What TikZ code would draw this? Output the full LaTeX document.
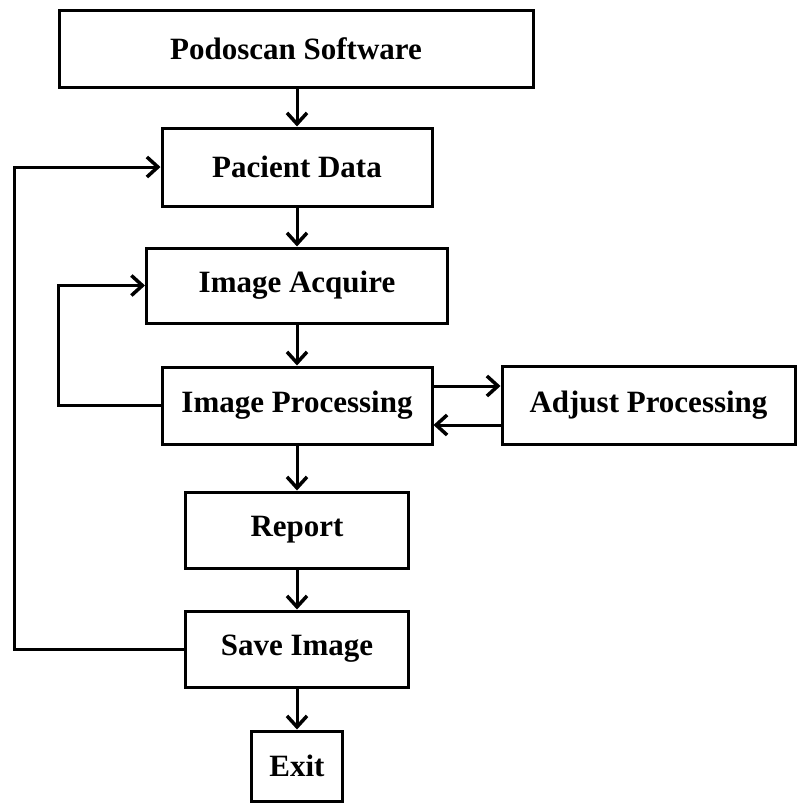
\documentclass[tikz,border=0pt]{standalone}
\usepackage{fontspec}
\setmainfont{Liberation Serif}
\usetikzlibrary{arrows.meta}
\begin{document}
\begin{tikzpicture}[x=1pt,y=-1pt,
  box/.style={draw=black,line width=3pt,fill=white,inner sep=0pt,
    font=\fontsize{31}{36}\selectfont\bfseries,align=center},
  arr/.style={line width=3pt,-{Straight Barb[length=11pt,width=20pt,line width=3.5pt,line join=miter]}},
  conn/.style={line width=3pt}]
\useasboundingbox (0,0) rectangle (796,803);
\node[box,minimum width=474pt,minimum height=77pt] (soft) at (296,48.5) {Podoscan Software};
\node[box,minimum width=270pt,minimum height=78pt] (pac) at (297,167) {Pacient Data};
\node[box,minimum width=301pt,minimum height=75pt] (acq) at (297,285.5) {Image Acquire};
\node[box,minimum width=270pt,minimum height=77pt] (proc) at (297,405.5) {Image Processing};
\node[box,minimum width=293pt,minimum height=78pt] (adj) at (648.5,405) {Adjust Processing};
\node[box,minimum width=223pt,minimum height=76pt] (rep) at (297,530) {Report};
\node[box,minimum width=223pt,minimum height=76pt] (save) at (297,649) {Save Image};
\node[box,minimum width=91pt,minimum height=70pt] (exit) at (297,766) {Exit};
\coordinate (fbA) at (14,0);
\coordinate (fbB) at (58,0);
\draw[arr] (soft.south -| pac.north) -- (pac.north);
\draw[arr] (pac.south) -- (acq.north);
\draw[arr] (acq.south) -- (proc.north);
\draw[arr] (proc.south) -- (rep.north);
\draw[arr] (rep.south) -- (save.north);
\draw[arr] (save.south) -- (exit.north);
\draw[arr] ([yshift=19.5pt]proc.east) -- ([yshift=19.5pt]proc.east -| adj.west);
\draw[arr] ([yshift=-19.5pt]proc.east -| adj.west) -- ([yshift=-19.5pt]proc.east);
\draw[arr] (proc.west) -- (proc.west -| fbB) |- (acq.west);
\draw[arr] (save.west) -- (save.west -| fbA) |- (pac.west);
\end{tikzpicture}
\end{document}
